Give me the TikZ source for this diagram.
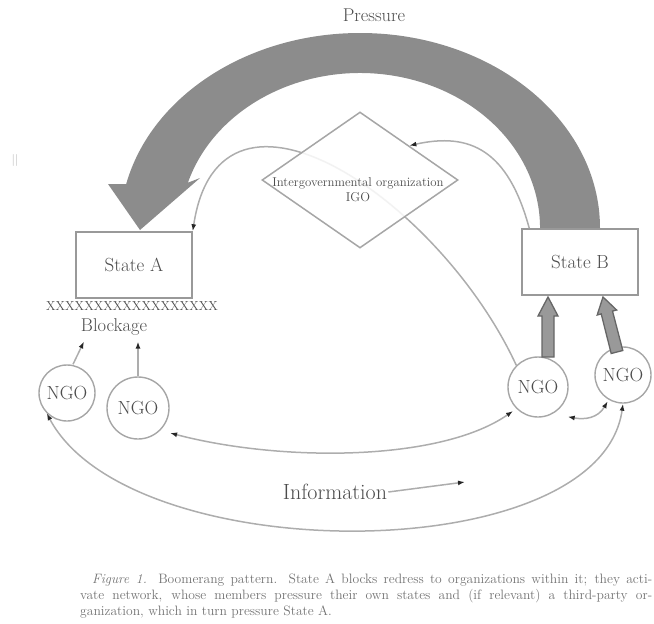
\documentclass[tikz,border=0pt]{standalone}
\usepackage{fontspec}
\usetikzlibrary{arrows.meta,shapes.geometric,calc}
\begin{document}
\begin{tikzpicture}[x=1pt,y=-1pt,
  txt/.style={text=black!70,inner sep=1pt},
  box/.style={draw=black!40,line width=1.5pt,minimum width=116pt,minimum height=66pt,inner sep=0,font=\fontsize{19}{20}\selectfont,text=black!70},
  ngo/.style={circle,draw=black!35,line width=1.4pt,inner sep=0,font=\fontsize{19}{20}\selectfont,text=black!70},
  conn/.style={draw=black!32,line width=1.5pt},
  tipend/.style={-{Latex[length=7pt,width=5pt,color=black!85]}},
  tipboth/.style={{Latex[length=7pt,width=5pt,color=black!85]}-{Latex[length=7pt,width=5pt,color=black!85]}},
  fatarrow/.style={fill=black!40,draw=black!60,line width=1.3pt,line join=miter},
  capline/.style={anchor=west,inner sep=0,text=black!55,font=\fontsize{13.6}{14}\selectfont}
]
\useasboundingbox (0,0) rectangle (654,624);

% big pressure arc
\fill[black!45] (600,228) arc[start angle=0,end angle=-167,x radius=240,y radius=195]
  -- (108,184) -- (140,230) -- (200,178)
  -- (187.9,182.7) arc[start angle=-163,end angle=0,x radius=180,y radius=155] -- cycle;
\node[txt,font=\fontsize{18.5}{19}\selectfont] (plabel) at (374,15) {Pressure};
\node[text=black!30,font=\fontsize{12}{12}\selectfont] (bars) at (15,160) {||};

% boxes
\node[box] (sa) at (134,265) {State A};
\node[box] (sb) at (580,262) {State B};

% blockage
\node[txt,font=\fontsize{13}{13}\selectfont,inner sep=0] (xx) at (132,306) {XXXXXXXXXXXXXXXXXX};
\node[txt,font=\fontsize{18.5}{19}\selectfont] (block) at (114,327) {Blockage};

% NGOs
\node[ngo,minimum size=56pt] (n1) at (67,393) {NGO};
\node[ngo,minimum size=62pt] (n2) at (138,408) {NGO};
\node[ngo,minimum size=60pt] (n3) at (538,387) {NGO};
\node[ngo,minimum size=56pt] (n4) at (623,375) {NGO};

% connector NGO -> State A through IGO
\draw[conn,tipend] (n3.north west) .. controls (440,200) and (220,50) .. (sa.north east);
\node[diamond,draw=black!35,line width=1.5pt,fill=white,fill opacity=0.85,draw opacity=1,minimum width=196pt,minimum height=136pt,inner sep=0] (igo) at (360,180) {};
\node[txt,font=\fontsize{12.8}{15}\selectfont,align=center] (igotext) at (358,190) {Intergovernmental organization\\IGO};
\draw[conn,tipend] ($(sb.north west)+(8,0)$) .. controls (508,150) and (470,132) .. ($(igo.north)!0.5!(igo.east)$);

% NGO to blockage
\draw[conn,tipend] ($(n1.north)+(6,0)$) -- ($(block.south)+(-30,5)$);
\draw[conn,tipend] (n2.north) -- ($(block.south)+(24,5)$);

% fat arrows NGO -> State B
\fill[fatarrow] (542,357) -- (542,316) -- (538,316) -- (548,297) -- (558,316) -- (554,316) -- (554,357) -- cycle;
\fill[fatarrow] (622.8,350.5) -- (612.5,311.1) -- (616.6,310.0) -- (603,297) -- (597.2,315.0) -- (601.2,313.9) -- (611.2,353.5) -- cycle;

% network connectors
\draw[conn,tipboth,shorten <=4pt,shorten >=10pt] (n3.south west) .. controls (440,462) and (280,462) .. (n2.south east);
\draw[conn,tipboth] ($(n3.south east)+(8,8)$) .. controls (585,420) and (598,418) .. ($(n4.south west)+(5,6)$);
\draw[conn,tipboth] (n1.south west) .. controls (130,570) and (600,570) .. (n4.south);

% information
\node[txt,font=\fontsize{22}{23}\selectfont] (info) at (335,492) {Information};
\draw[conn,tipend] (info.east) -- (465,482);

% caption
\node[capline] (c1) at (92,580) {\makebox[560pt][s]{\textit{Figure 1.} Boomerang pattern. State A blocks redress to organizations within it; they acti-}};
\node[capline] (c2) at (80,596) {\makebox[572pt][s]{vate network, whose members pressure their own states and (if relevant) a third-party or-}};
\node[capline] (c3) at (80,612) {ganization, which in turn pressure State A.};
\end{tikzpicture}
\end{document}
